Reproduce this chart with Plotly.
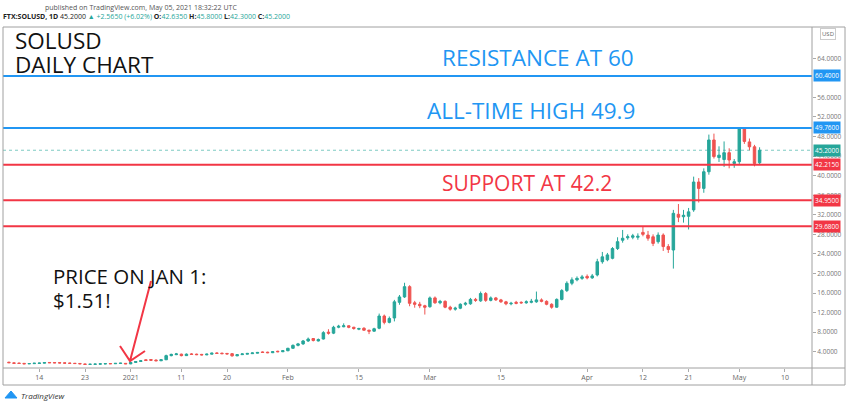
import pandas as pd
import plotly.graph_objects as go

# ---------------- data (SOL/USD daily) ----------------
dates = pd.date_range("2020-12-08", "2021-05-05", freq="D")

opens = [
    # Dec 8 - Dec 31
    1.85, 1.72, 1.68, 1.62, 1.52, 1.56, 1.60, 1.66, 1.80, 1.78, 1.76, 1.72,
    1.68, 1.64, 1.60, 1.50, 1.40, 1.42, 1.46, 1.50, 1.58, 1.54, 1.60, 1.62,
    # Jan
    1.51, 1.80, 2.00, 2.35, 2.40, 2.30, 2.15, 2.35, 3.20, 3.40, 3.50, 3.20,
    3.55, 3.50, 3.45, 3.35, 3.50, 3.75, 3.70, 3.65, 3.60, 3.15, 3.40, 3.50,
    3.60, 3.70, 3.95, 3.90, 3.80, 4.10, 4.00,
    # Feb
    4.20, 4.70, 5.30, 5.60, 6.20, 6.70, 6.20, 6.60, 8.00, 7.80, 9.00, 9.10,
    9.30, 9.00, 8.60, 8.80, 8.40, 8.20, 8.80, 11.30, 10.00, 10.90, 14.10, 15.20,
    17.30, 14.00, 13.70, 13.40,
    # Mar
    13.20, 15.00, 14.00, 14.30, 13.10, 12.70, 12.90, 13.70, 13.80, 14.70, 14.40, 15.90,
    14.50, 15.00, 14.60, 14.20, 13.80, 14.10, 14.10, 14.00, 14.10, 14.20, 14.60, 14.30,
    13.70, 13.10, 14.70, 16.50, 18.00, 18.70, 19.00,
    # Apr
    19.40, 19.10, 19.70, 22.40, 22.80, 23.10, 25.10, 26.80, 27.30, 27.40, 27.40, 28.40,
    27.85, 27.50, 26.50, 27.85, 25.50, 24.80, 32.10, 31.60, 31.70, 33.00, 38.70, 37.40,
    40.80, 47.30, 43.70, 43.30, 44.70, 42.50,
    # May
    42.85, 49.70, 46.90, 45.90, 42.635,
]

closes = [
    # Dec
    1.75, 1.62, 1.60, 1.52, 1.58, 1.65, 1.68, 1.78, 1.74, 1.72, 1.70, 1.66,
    1.62, 1.58, 1.52, 1.40, 1.45, 1.48, 1.52, 1.56, 1.54, 1.62, 1.66, 1.52,
    # Jan
    1.80, 2.00, 2.15, 2.20, 2.25, 2.15, 2.35, 3.20, 3.45, 3.55, 3.20, 3.50,
    3.45, 3.40, 3.35, 3.50, 3.70, 3.65, 3.60, 3.55, 3.15, 3.40, 3.55, 3.65,
    3.75, 3.85, 3.85, 3.80, 4.00, 4.00, 4.20,
    # Feb
    4.70, 5.30, 5.60, 6.20, 6.60, 6.30, 6.50, 7.90, 7.80, 9.00, 9.20, 9.30,
    9.00, 8.75, 8.75, 8.40, 8.20, 8.70, 11.30, 10.00, 10.80, 14.20, 15.20, 17.30,
    13.90, 13.70, 13.40, 13.10,
    # Mar
    15.00, 14.00, 14.30, 13.10, 12.70, 12.90, 13.70, 13.90, 14.70, 14.50, 15.90, 14.50,
    15.00, 14.60, 14.20, 13.80, 13.90, 13.90, 14.00, 14.20, 14.30, 14.60, 14.30, 13.70,
    13.10, 14.70, 16.50, 18.00, 18.70, 19.00, 19.30,
    # Apr
    19.10, 19.50, 22.40, 23.40, 23.80, 25.10, 26.50, 27.20, 27.50, 27.70, 27.60, 28.00,
    27.20, 26.15, 27.85, 25.50, 24.90, 32.30, 31.50, 31.90, 32.60, 38.70, 37.40, 40.80,
    47.30, 43.90, 44.20, 44.70, 43.20, 42.85,
    # May
    49.70, 47.00, 45.90, 42.50, 45.20,
]

highs = [
    # Dec
    1.95, 1.80, 1.74, 1.68, 1.62, 1.70, 1.74, 1.86, 1.86, 1.82, 1.80, 1.76,
    1.72, 1.68, 1.64, 1.55, 1.50, 1.52, 1.56, 1.60, 1.62, 1.66, 1.72, 1.68,
    # Jan
    1.88, 2.08, 2.25, 2.45, 2.50, 2.40, 2.45, 3.40, 3.60, 3.75, 3.60, 3.65,
    3.70, 3.60, 3.55, 3.60, 3.80, 3.85, 3.80, 3.75, 3.70, 3.50, 3.65, 3.75,
    3.85, 3.95, 4.05, 4.00, 4.10, 4.20, 4.30,
    # Feb
    4.80, 5.50, 5.80, 6.40, 6.90, 6.80, 6.70, 8.20, 8.60, 9.30, 9.50, 9.80,
    9.40, 9.10, 8.90, 9.00, 8.50, 8.90, 11.80, 11.60, 11.20, 14.60, 15.60, 18.10,
    17.60, 14.40, 14.20, 13.60,
    # Mar
    15.30, 15.30, 14.60, 14.50, 13.40, 13.20, 13.90, 14.20, 15.00, 15.00, 16.30, 16.20,
    15.30, 15.20, 14.80, 14.40, 14.20, 14.40, 14.30, 14.50, 14.80, 16.30, 14.90, 14.50,
    13.90, 14.90, 16.80, 18.40, 19.20, 19.40, 19.70,
    # Apr
    19.80, 19.90, 23.00, 24.40, 24.20, 25.40, 27.40, 28.90, 28.00, 28.10, 28.20, 29.60,
    28.70, 28.00, 28.40, 28.20, 26.00, 33.00, 34.20, 33.00, 33.40, 39.80, 39.50, 41.50,
    48.40, 48.60, 46.00, 47.00, 45.60, 43.40,
    # May
    49.76, 49.76, 47.60, 46.30, 45.80,
]

lows = [
    # Dec
    1.70, 1.58, 1.55, 1.48, 1.48, 1.52, 1.56, 1.62, 1.70, 1.68, 1.66, 1.62,
    1.58, 1.54, 1.48, 1.36, 1.36, 1.40, 1.42, 1.46, 1.50, 1.50, 1.56, 1.48,
    # Jan
    1.45, 1.74, 1.92, 2.12, 2.15, 2.05, 2.08, 2.30, 3.05, 3.30, 3.05, 3.15,
    3.35, 3.30, 3.25, 3.30, 3.45, 3.55, 3.50, 3.45, 3.00, 3.10, 3.35, 3.45,
    3.55, 3.65, 3.75, 3.70, 3.72, 3.90, 3.92,
    # Feb
    4.10, 4.60, 5.10, 5.40, 6.00, 6.10, 6.10, 6.50, 7.50, 7.60, 8.80, 9.00,
    8.80, 8.50, 8.40, 8.30, 7.60, 8.10, 8.60, 9.60, 9.80, 10.20, 13.60, 15.00,
    13.30, 13.00, 12.90, 11.60,
    # Mar
    13.00, 13.80, 13.70, 12.90, 12.40, 12.40, 12.70, 13.40, 13.60, 14.20, 14.20, 14.20,
    14.30, 14.40, 14.00, 13.50, 13.50, 13.70, 13.80, 13.80, 13.90, 14.00, 14.10, 13.50,
    12.80, 13.00, 14.50, 16.20, 17.60, 18.40, 18.70,
    # Apr
    18.80, 18.90, 19.40, 22.00, 22.50, 22.90, 24.80, 26.30, 26.90, 27.00, 26.90, 27.60,
    26.70, 25.60, 26.10, 24.60, 24.20, 21.00, 30.50, 30.40, 29.00, 32.60, 34.50, 36.50,
    40.20, 43.50, 42.80, 41.80, 41.50, 41.60,
    # May
    42.40, 46.50, 45.20, 41.90, 42.30,
]

level_values = [60.40, 49.76, 42.215, 34.95, 29.68]
level_tags = ["60.4000", "49.7600", "42.2150", "34.9500", "29.6800"]
level_colors = ["#2196f3", "#2196f3", "#f23645", "#f23645", "#f23645"]
last_price = 45.20
last_tag = "45.2000"

# 60 and 68 sit under the price tag / currency badge, as in the picture
y_ticks = [4, 8, 12, 16, 20, 24, 28, 32, 36, 40, 44, 48, 52, 56, 64]
y_ticktext = ["%.4f" % v for v in y_ticks]

x_tickvals = ["2020-12-14", "2020-12-23", "2021-01-01", "2021-01-11", "2021-01-20",
              "2021-02-01", "2021-02-15", "2021-03-01", "2021-03-15", "2021-04-01",
              "2021-04-12", "2021-04-21", "2021-05-01", "2021-05-10"]
x_ticktext = ["14", "23", "2021", "11", "20", "Feb", "15", "Mar", "15", "Apr",
              "12", "21", "May", "10"]

# ---------------- layout helpers ----------------
W, H = 850, 407
L, R, T, B = 3, 812, 27, 368   # plot area in pixels


def px(x):
    return (x - L) / (R - L)


def py(y):
    return (B - y) / (B - T)


GREEN = "#26a69a"
RED = "#ef5350"
BLUE = "#2196f3"
TEXT_RED = "#f23645"

fig = go.Figure()
fig.add_trace(go.Candlestick(
    x=dates, open=opens, high=highs, low=lows, close=closes,
    increasing=dict(line=dict(color=GREEN, width=1), fillcolor=GREEN),
    decreasing=dict(line=dict(color=RED, width=1), fillcolor=RED),
    whiskerwidth=0, showlegend=False, hoverinfo="skip",
))

shapes = []
annotations = []

# current price dotted line
shapes.append(dict(type="line", xref="paper", x0=0, x1=1, yref="y", y0=last_price, y1=last_price,
                   line=dict(color="rgba(38,166,154,0.6)", width=1, dash="dot"), layer="below"))

# support / resistance lines + price tags
for v, tag, c in zip(level_values, level_tags, level_colors):
    shapes.append(dict(type="line", xref="paper", x0=0, x1=1, yref="y", y0=v, y1=v,
                       line=dict(color=c, width=2)))
    annotations.append(dict(xref="paper", yref="y", x=px(813), y=v, text=tag, showarrow=False,
                            xanchor="left", yanchor="middle", bgcolor=c, borderpad=1,
                            font=dict(size=6.5, color="white", family="Open Sans")))
annotations.append(dict(xref="paper", yref="y", x=px(813), y=last_price, text=last_tag, showarrow=False,
                        xanchor="left", yanchor="middle", bgcolor="#26a69a", borderpad=1,
                        font=dict(size=6.5, color="white", family="Open Sans")))
annotations.append(dict(xref="paper", yref="paper", x=px(828), y=py(34), text="USD", showarrow=False,
                        xanchor="center", yanchor="middle", bgcolor="white", bordercolor="#ccc",
                        borderwidth=1, borderpad=1,
                        font=dict(size=6, color="#666", family="Open Sans")))

# frame
frame = "#a0a0a0"
shapes += [
    dict(type="rect", xref="paper", yref="paper", x0=px(3), x1=px(845), y0=py(385), y1=py(27),
         line=dict(color=frame, width=1)),
    dict(type="line", xref="paper", yref="paper", x0=px(812), x1=px(812), y0=py(385), y1=py(27),
         line=dict(color=frame, width=1)),
    dict(type="line", xref="paper", yref="paper", x0=px(3), x1=px(845), y0=py(368), y1=py(368),
         line=dict(color=frame, width=1)),
]

# title block
title_font = dict(size=22.5, color="#111", family="Open Sans")
annotations += [
    dict(xref="paper", yref="paper", x=px(13), y=py(41), text="SOLUSD", showarrow=False,
         xanchor="left", yanchor="middle", font=title_font),
    dict(xref="paper", yref="paper", x=px(13), y=py(64), text="DAILY CHART", showarrow=False,
         xanchor="left", yanchor="middle", font=title_font),
]

# headers
annotations.append(dict(xref="paper", yref="paper", x=px(141), y=py(7),
                        text="published on TradingView.com, May 05, 2021 18:32:22 UTC",
                        showarrow=False, xanchor="center", yanchor="middle",
                        font=dict(size=7, color="#555", family="Open Sans")))
t = ("<b>FTX:SOLUSD, 1D</b> 45.2000 <span style='color:#26a69a'>▲ +2.5650 (+6.02%)</span> "
     "<b>O:</b><span style='color:#26a69a'>42.6350</span> <b>H:</b><span style='color:#26a69a'>45.8000</span> "
     "<b>L:</b><span style='color:#26a69a'>42.3000</span> <b>C:</b><span style='color:#26a69a'>45.2000</span>")
annotations.append(dict(xref="paper", yref="paper", x=px(1), y=py(16), text=t, showarrow=False,
                        xanchor="left", yanchor="middle", font=dict(size=7, color="#222", family="Open Sans")))

# commentary text
annotations += [
    dict(xref="paper", yref="paper", x=px(538), y=py(57), text="RESISTANCE AT 60", showarrow=False,
         xanchor="center", yanchor="middle", font=dict(color=BLUE, size=22.5, family="Open Sans")),
    dict(xref="paper", yref="paper", x=px(531), y=py(110), text="ALL-TIME HIGH 49.9", showarrow=False,
         xanchor="center", yanchor="middle", font=dict(color=BLUE, size=22.5, family="Open Sans")),
    dict(xref="paper", yref="paper", x=px(527), y=py(183), text="SUPPORT AT 42.2", showarrow=False,
         xanchor="center", yanchor="middle", font=dict(color=TEXT_RED, size=21, family="Open Sans")),
    dict(xref="paper", yref="paper", x=px(51), y=py(276), text="PRICE ON JAN 1:", showarrow=False,
         xanchor="left", yanchor="middle", font=dict(color="#111", size=20.5, family="Open Sans")),
    dict(xref="paper", yref="paper", x=px(51), y=py(300), text="$1.51!", showarrow=False,
         xanchor="left", yanchor="middle", font=dict(color="#111", size=20.5, family="Open Sans")),
]

# hand-drawn style arrow to the Jan 1 candle
shapes.append(dict(type="path", xref="paper", yref="paper",
                   path="M %f %f L %f %f M %f %f L %f %f L %f %f" % (
                       px(151), py(281), px(130), py(361),
                       px(120), py(346), px(130), py(361), px(145), py(351)),
                   line=dict(color=TEXT_RED, width=2)))

# TradingView logo
shapes.append(dict(type="path", xref="paper", yref="paper",
                   path="M %f %f L %f %f L %f %f L %f %f Z" % (px(5), py(398), px(11), py(391),
                                                                px(17), py(398), px(11), py(398)),
                   fillcolor=BLUE, line=dict(color=BLUE, width=1)))
annotations.append(dict(xref="paper", yref="paper", x=px(19), y=py(395), text="<i>TradingView</i>",
                        showarrow=False, xanchor="left", yanchor="middle",
                        font=dict(size=8, color="#333", family="Open Sans")))

fig.update_layout(
    width=W, height=H,
    margin=dict(l=L, r=W - R, t=T, b=H - B, pad=0),
    paper_bgcolor="white", plot_bgcolor="white",
    shapes=shapes, annotations=annotations,
    xaxis=dict(type="date", range=["2020-12-06 20:00", "2021-05-15 08:00"],
               rangeslider=dict(visible=False), showgrid=False, zeroline=False,
               tickvals=x_tickvals, ticktext=x_ticktext, ticks="outside", ticklen=3,
               tickcolor="#aaa", tickfont=dict(size=7, color="#666", family="Open Sans")),
    yaxis=dict(side="right", range=[0.67, 70.4], showgrid=False, zeroline=False,
               tickvals=y_ticks, ticktext=y_ticktext, ticks="outside", ticklen=3,
               tickcolor="#aaa", tickfont=dict(size=6.5, color="#777", family="Open Sans")),
)

fig.write_html("out.html", config={"displayModeBar": False},
               post_script="document.body.style.margin='0px';")
